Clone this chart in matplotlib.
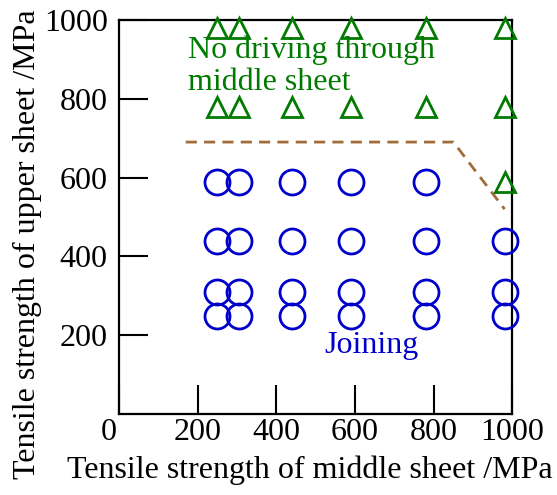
import numpy as np
import matplotlib
matplotlib.use("Agg")
import matplotlib.pyplot as plt
import matplotlib.transforms as mtransforms

plt.rcParams['font.family'] = ['Liberation Serif', 'DejaVu Serif']

# middle sheet / upper sheet strengths [MPa]
middle_grades = [250, 305, 440, 590, 780, 980]
upper_joined = [590, 440, 310, 250]

# joined combinations (circles)
join_x = [m for m in middle_grades for u in upper_joined if not (m == 980 and u == 590)]
join_y = [u for m in middle_grades for u in upper_joined if not (m == 980 and u == 590)]

# no driving through middle sheet (triangles)
fail_x = middle_grades * 2 + [980]
fail_y = [980] * 6 + [780] * 6 + [590]

# boundary between the two regions
bound_x = [170, 850, 980]
bound_y = [690, 690, 520]

x_ticks = [0, 200, 400, 600, 800, 1000]
y_ticks = [200, 400, 600, 800, 1000]

green = '#007a00'
blue = '#0000cc'
brown = '#a06c3a'
fs = 23

fig = plt.figure(figsize=(5.57, 4.95), dpi=100)
ax = fig.add_axes([0.2133, 0.1632, 0.7067, 0.7968])

ax.plot(bound_x, bound_y, color=brown, linewidth=2.0, dashes=(4, 2.6), zorder=1)
ax.plot(join_x, join_y, linestyle='none', marker='o', markersize=18,
        markerfacecolor='none', markeredgecolor=blue, markeredgewidth=2, clip_on=False, zorder=3)
ax.plot(fail_x, fail_y, linestyle='none', marker='^', markersize=15,
        markerfacecolor='none', markeredgecolor=green, markeredgewidth=2, clip_on=False, zorder=3)

ax.text(175, 903, 'No driving through', color=green, fontsize=fs, ha='left', va='baseline')
ax.text(175, 822, 'middle sheet', color=green, fontsize=fs, ha='left', va='baseline')
ax.text(523, 155, 'Joining', color=blue, fontsize=fs, ha='left', va='baseline')

ax.set_xlim(0, 1000)
ax.set_ylim(0, 1000)
ax.set_xticks(x_ticks)
ax.set_yticks(y_ticks)
ax.tick_params(direction='in', length=21, width=1.5, labelsize=fs,
               top=False, right=False)
ax.tick_params(axis='x', pad=3)
ax.tick_params(axis='y', pad=8)
for sp in ax.spines.values():
    sp.set_linewidth(1.6)

# nudge the "0" on the x axis to the left of the corner
offset = mtransforms.ScaledTranslation(-7 / 72, 0, fig.dpi_scale_trans)
lab0 = ax.xaxis.get_majorticklabels()[0]
lab0.set_transform(lab0.get_transform() + offset)

fig.text(0.557, 0.05, 'Tensile strength of middle sheet /MPa', fontsize=fs,
         ha='center', va='center')
fig.text(0.05, 0.507, 'Tensile strength of upper sheet /MPa', fontsize=fs,
         ha='center', va='center', rotation=90)

fig.savefig('out.png', dpi=100)
